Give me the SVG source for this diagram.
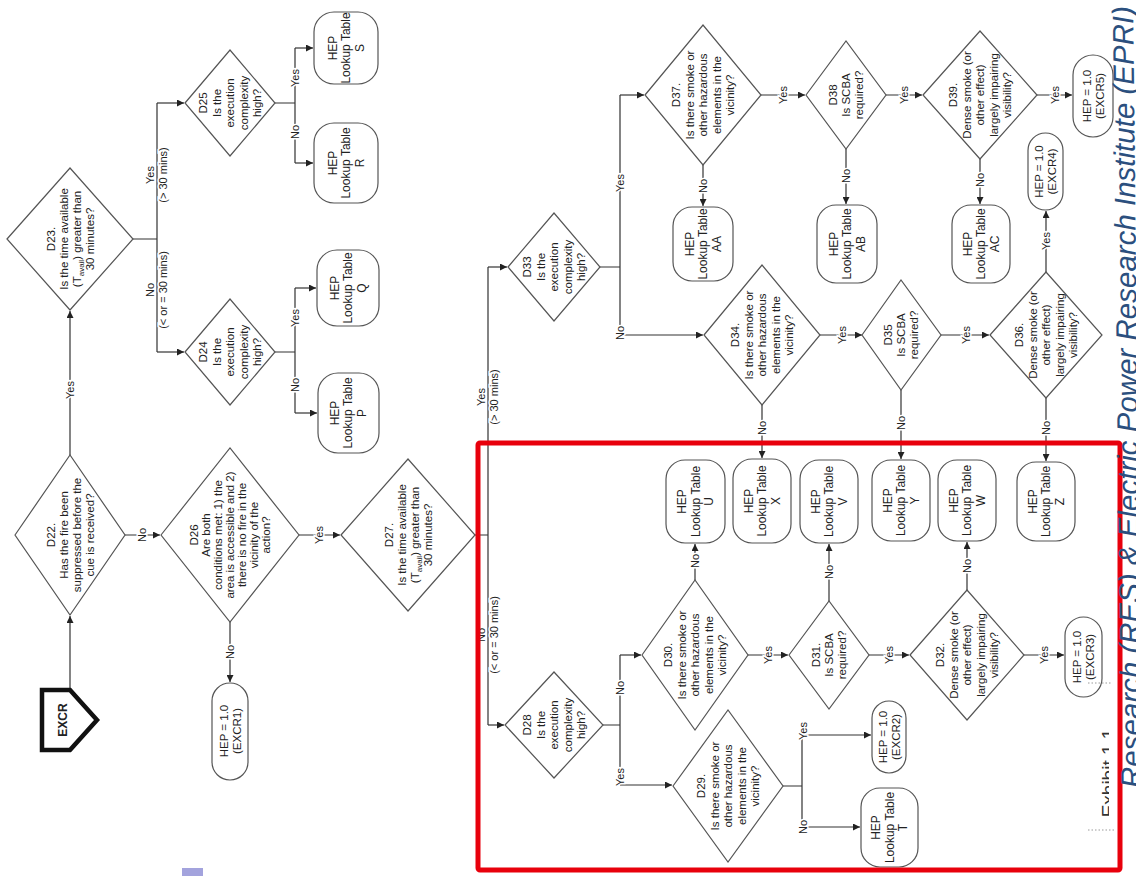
<svg xmlns="http://www.w3.org/2000/svg" width="1136" height="876" viewBox="0 0 1136 876">
<style>
.d{fill:#fff;stroke:#555;stroke-width:1.2}
.n{fill:#fff;stroke:#555;stroke-width:1.2}
.t{font-family:"Liberation Sans",Arial,sans-serif;font-size:11.5px;fill:#222;text-anchor:middle}
.c{fill:none;stroke:#333;stroke-width:1.2}
.a{fill:none;stroke:#333;stroke-width:1.2;marker-end:url(#ar)}
.l{font-family:"Liberation Sans",Arial,sans-serif;font-size:11px;fill:#222;text-anchor:middle;stroke:#fff;stroke-width:3;paint-order:stroke}
</style>
<defs>
<marker id="ar" markerUnits="userSpaceOnUse" markerWidth="7" markerHeight="7" refX="7" refY="3.5" orient="auto"><path d="M0,0 L7,3.5 L0,7 z" fill="#222"/></marker>
<clipPath id="cp"><rect x="1080" y="700" width="29" height="140"/></clipPath>
</defs>
<rect width="1136" height="876" fill="#fff"/>

<g id="connectors">
<path class="a" d="M70,690 V616"/>
<path class="a" d="M70,455 V311"/>
<path class="c" d="M133,239 H157 M157,103 V352"/>
<path class="a" d="M157,103 H184"/>
<path class="a" d="M157,352 H184"/>
<path class="c" d="M275,103 H295 M295,48 V163"/>
<path class="a" d="M295,48 H313"/>
<path class="a" d="M295,163 H313"/>
<path class="c" d="M275,352 H295 M295,288 V413"/>
<path class="a" d="M295,288 H316"/>
<path class="a" d="M295,413 H317"/>
<path class="a" d="M125,535 H160"/>
<path class="a" d="M230,622 V682"/>
<path class="a" d="M299,535 H340"/>
<path class="c" d="M475,535 H488 M488,267 V725"/>
<path class="a" d="M488,267 H507"/>
<path class="a" d="M488,725 H504"/>
<path class="c" d="M600,267 H620 M620,95 V335"/>
<path class="a" d="M620,95 H644"/>
<path class="a" d="M620,335 H703"/>
<path class="a" d="M703,165 V206"/>
<path class="a" d="M761,95 H805"/>
<path class="a" d="M846,149 V204"/>
<path class="a" d="M886,95 H922"/>
<path class="a" d="M980,159 V204"/>
<path class="a" d="M1037,95 H1072"/>
<path class="a" d="M820,335 H862"/>
<path class="a" d="M941,335 H989"/>
<path class="a" d="M1046,272 V211"/>
<path class="a" d="M762,405 V458"/>
<path class="a" d="M901,390 V459"/>
<path class="a" d="M1046,398 V461"/>
<path class="c" d="M603,725 H620 M620,655 V785"/>
<path class="a" d="M620,655 H641"/>
<path class="a" d="M620,785 H672"/>
<path class="a" d="M695,580 V544"/>
<path class="a" d="M748,655 H788"/>
<path class="a" d="M829,601 V544"/>
<path class="a" d="M869,655 H909"/>
<path class="a" d="M967,590 V542"/>
<path class="a" d="M1024,655 H1064"/>
<path class="c" d="M783,786 H802 M802,735 V827"/>
<path class="a" d="M802,735 H871"/>
<path class="a" d="M802,827 H860"/>

<text class="l" transform="translate(70,390) rotate(-90)" dy="4">Yes</text>
<text class="l" transform="translate(157,175) rotate(-90)"><tspan x="0" dy="-3">Yes</tspan><tspan x="0" dy="13">(&gt; 30 mins)</tspan></text>
<text class="l" transform="translate(157,290) rotate(-90)"><tspan x="0" dy="-3">No</tspan><tspan x="0" dy="13">(&lt; or = 30 mins)</tspan></text>
<text class="l" transform="translate(295,78) rotate(-90)" dy="4">Yes</text>
<text class="l" transform="translate(295,132) rotate(-90)" dy="4">No</text>
<text class="l" transform="translate(295,318) rotate(-90)" dy="4">Yes</text>
<text class="l" transform="translate(295,385) rotate(-90)" dy="4">No</text>
<text class="l" transform="translate(142,535) rotate(-90)" dy="4">No</text>
<text class="l" transform="translate(230,652) rotate(-90)" dy="4">No</text>
<text class="l" transform="translate(319,535) rotate(-90)" dy="4">Yes</text>
<text class="l" transform="translate(488,397) rotate(-90)"><tspan x="0" dy="-3">Yes</tspan><tspan x="0" dy="13">(&gt; 30 mins)</tspan></text>
<text class="l" transform="translate(488,635) rotate(-90)"><tspan x="0" dy="-3">No</tspan><tspan x="0" dy="13">(&lt; or = 30 mins)</tspan></text>
<text class="l" transform="translate(620,183) rotate(-90)" dy="4">Yes</text>
<text class="l" transform="translate(620,333) rotate(-90)" dy="4">No</text>
<text class="l" transform="translate(703,186) rotate(-90)" dy="4">No</text>
<text class="l" transform="translate(783,95) rotate(-90)" dy="4">Yes</text>
<text class="l" transform="translate(846,176) rotate(-90)" dy="4">No</text>
<text class="l" transform="translate(904,95) rotate(-90)" dy="4">Yes</text>
<text class="l" transform="translate(980,180) rotate(-90)" dy="4">No</text>
<text class="l" transform="translate(1055,95) rotate(-90)" dy="4">Yes</text>
<text class="l" transform="translate(842,335) rotate(-90)" dy="4">Yes</text>
<text class="l" transform="translate(966,335) rotate(-90)" dy="4">Yes</text>
<text class="l" transform="translate(1046,241) rotate(-90)" dy="4">Yes</text>
<text class="l" transform="translate(762,428) rotate(-90)" dy="4">No</text>
<text class="l" transform="translate(901,423) rotate(-90)" dy="4">No</text>
<text class="l" transform="translate(1046,428) rotate(-90)" dy="4">No</text>
<text class="l" transform="translate(620,688) rotate(-90)" dy="4">No</text>
<text class="l" transform="translate(620,777) rotate(-90)" dy="4">Yes</text>
<text class="l" transform="translate(695,561) rotate(-90)" dy="4">No</text>
<text class="l" transform="translate(768,655) rotate(-90)" dy="4">Yes</text>
<text class="l" transform="translate(829,572) rotate(-90)" dy="4">No</text>
<text class="l" transform="translate(889,655) rotate(-90)" dy="4">Yes</text>
<text class="l" transform="translate(967,566) rotate(-90)" dy="4">No</text>
<text class="l" transform="translate(1044,655) rotate(-90)" dy="4">Yes</text>
<text class="l" transform="translate(803,731) rotate(-90)" dy="4">Yes</text>
<text class="l" transform="translate(803,827) rotate(-90)" dy="4">No</text>
</g>

<g id="EXCR">
<polygon points="42,690 70,690 97,720 70,750 42,750" fill="#fff" stroke="#111" stroke-width="4.5" stroke-linejoin="miter"/>
<text class="t" transform="translate(62,720) rotate(-90)" dy="4.5" style="font-weight:bold;font-size:12px">EXCR</text>
</g>

<g id="D22"><polygon class="d" points="15,535 70,455 125,535 70,615"/>
<text class="t" transform="translate(70,535) rotate(-90)"><tspan x="0" dy="-15.5">D22.</tspan><tspan x="0" dy="13">Has the fire been</tspan><tspan x="0" dy="13">suppressed before the</tspan><tspan x="0" dy="13">cue is received?</tspan></text></g>

<g id="D23"><polygon class="d" points="7,239 70,168 133,239 70,310"/>
<text class="t" transform="translate(70,239) rotate(-90)"><tspan x="0" dy="-15.5">D23.</tspan><tspan x="0" dy="13">Is the time available</tspan><tspan x="0" dy="13">(T<tspan font-size="8" dy="3">avail</tspan><tspan dy="-3">) greater than</tspan></tspan><tspan x="0" dy="13">30 minutes?</tspan></text></g>

<g id="D25"><polygon class="d" points="185,103 230,50 275,103 230,156"/>
<text class="t" transform="translate(230,103) rotate(-90)"><tspan x="0" dy="-23">D25</tspan><tspan x="0" dy="13.5">Is the</tspan><tspan x="0" dy="13.5">execution</tspan><tspan x="0" dy="13.5">complexity</tspan><tspan x="0" dy="13.5">high?</tspan></text></g>

<g id="D24"><polygon class="d" points="185,352 230,299 275,352 230,405"/>
<text class="t" transform="translate(230,352) rotate(-90)"><tspan x="0" dy="-23">D24</tspan><tspan x="0" dy="13.5">Is the</tspan><tspan x="0" dy="13.5">execution</tspan><tspan x="0" dy="13.5">complexity</tspan><tspan x="0" dy="13.5">high?</tspan></text></g>

<g id="S"><rect class="n" x="314" y="12" width="64" height="72" rx="20"/>
<text class="t" transform="translate(346,48) rotate(-90)" style="font-size:12px"><tspan x="0" dy="-9.5">HEP</tspan><tspan x="0" dy="13.5">Lookup Table</tspan><tspan x="0" dy="13.5">S</tspan></text></g>
<g id="R"><rect class="n" x="314" y="123" width="64" height="80" rx="20"/>
<text class="t" transform="translate(346,163) rotate(-90)" style="font-size:12px"><tspan x="0" dy="-9.5">HEP</tspan><tspan x="0" dy="13.5">Lookup Table</tspan><tspan x="0" dy="13.5">R</tspan></text></g>
<g id="Q"><rect class="n" x="317" y="250" width="62" height="76" rx="20"/>
<text class="t" transform="translate(348,288) rotate(-90)" style="font-size:12px"><tspan x="0" dy="-9.5">HEP</tspan><tspan x="0" dy="13.5">Lookup Table</tspan><tspan x="0" dy="13.5">Q</tspan></text></g>
<g id="P"><rect class="n" x="318" y="373" width="61" height="80" rx="20"/>
<text class="t" transform="translate(348,413) rotate(-90)" style="font-size:12px"><tspan x="0" dy="-9.5">HEP</tspan><tspan x="0" dy="13.5">Lookup Table</tspan><tspan x="0" dy="13.5">P</tspan></text></g>

<g id="D26"><polygon class="d" points="161,535 230,448 299,535 230,622"/>
<text class="t" transform="translate(230,535) rotate(-90)"><tspan x="0" dy="-32">D26</tspan><tspan x="0" dy="12">Are both</tspan><tspan x="0" dy="12">conditions met: 1) the</tspan><tspan x="0" dy="12">area is accessible and 2)</tspan><tspan x="0" dy="12">there is no fire in the</tspan><tspan x="0" dy="12">vicinity of the</tspan><tspan x="0" dy="12">action?</tspan></text></g>

<g id="EXCR1"><rect class="n" x="212" y="683" width="36" height="97" rx="18"/>
<text class="t" transform="translate(230,731) rotate(-90)"><tspan x="0" dy="-2.5">HEP = 1.0</tspan><tspan x="0" dy="13">(EXCR1)</tspan></text></g>

<g id="D27"><polygon class="d" points="341,535 408,459 475,535 408,611"/>
<text class="t" transform="translate(408,535) rotate(-90)"><tspan x="0" dy="-15.5">D27.</tspan><tspan x="0" dy="13">Is the time available</tspan><tspan x="0" dy="13">(T<tspan font-size="8" dy="3">avail</tspan><tspan dy="-3">) greater than</tspan></tspan><tspan x="0" dy="13">30 minutes?</tspan></text></g>

<g id="D33"><polygon class="d" points="508,267 554,213 600,267 554,321"/>
<text class="t" transform="translate(554,267) rotate(-90)"><tspan x="0" dy="-23">D33</tspan><tspan x="0" dy="13.5">Is the</tspan><tspan x="0" dy="13.5">execution</tspan><tspan x="0" dy="13.5">complexity</tspan><tspan x="0" dy="13.5">high?</tspan></text></g>

<g id="D37"><polygon class="d" points="645,95 703,25 761,95 703,165"/>
<text class="t" transform="translate(703,95) rotate(-90)"><tspan x="0" dy="-23">D37.</tspan><tspan x="0" dy="13.5">Is there smoke or</tspan><tspan x="0" dy="13.5">other hazardous</tspan><tspan x="0" dy="13.5">elements in the</tspan><tspan x="0" dy="13.5">vicinity?</tspan></text></g>

<g id="AA"><rect class="n" x="673" y="207" width="60" height="74" rx="19"/>
<text class="t" transform="translate(703,244) rotate(-90)" style="font-size:12px"><tspan x="0" dy="-9.5">HEP</tspan><tspan x="0" dy="13.5">Lookup Table</tspan><tspan x="0" dy="13.5">AA</tspan></text></g>

<g id="D38"><polygon class="d" points="806,95 846,41 886,95 846,149"/>
<text class="t" transform="translate(846,95) rotate(-90)"><tspan x="0" dy="-9.5">D38</tspan><tspan x="0" dy="13">Is SCBA</tspan><tspan x="0" dy="13">required?</tspan></text></g>

<g id="AB"><rect class="n" x="817" y="205" width="60" height="78" rx="19"/>
<text class="t" transform="translate(847,244) rotate(-90)" style="font-size:12px"><tspan x="0" dy="-9.5">HEP</tspan><tspan x="0" dy="13.5">Lookup Table</tspan><tspan x="0" dy="13.5">AB</tspan></text></g>

<g id="D39"><polygon class="d" points="923,95 980,31 1037,95 980,159"/>
<text class="t" transform="translate(980,95) rotate(-90)"><tspan x="0" dy="-23">D39.</tspan><tspan x="0" dy="13.5">Dense smoke (or</tspan><tspan x="0" dy="13.5">other effect)</tspan><tspan x="0" dy="13.5">largely impairing</tspan><tspan x="0" dy="13.5">visibility?</tspan></text></g>

<g id="AC"><rect class="n" x="952" y="205" width="58" height="78" rx="19"/>
<text class="t" transform="translate(981,244) rotate(-90)" style="font-size:12px"><tspan x="0" dy="-9.5">HEP</tspan><tspan x="0" dy="13.5">Lookup Table</tspan><tspan x="0" dy="13.5">AC</tspan></text></g>

<g id="EXCR5"><rect class="n" x="1073" y="55" width="40" height="82" rx="20"/>
<text class="t" transform="translate(1093,96) rotate(-90)"><tspan x="0" dy="-2.5">HEP = 1.0</tspan><tspan x="0" dy="13">(EXCR5)</tspan></text></g>

<g id="EXCR4"><rect class="n" x="1028" y="133" width="35" height="77" rx="17.5"/>
<text class="t" transform="translate(1045.5,171.5) rotate(-90)"><tspan x="0" dy="-2.5">HEP = 1.0</tspan><tspan x="0" dy="13">(EXCR4)</tspan></text></g>

<g id="D34"><polygon class="d" points="704,335 762,265 820,335 762,405"/>
<text class="t" transform="translate(762,335) rotate(-90)"><tspan x="0" dy="-23">D34.</tspan><tspan x="0" dy="13.5">Is there smoke or</tspan><tspan x="0" dy="13.5">other hazardous</tspan><tspan x="0" dy="13.5">elements in the</tspan><tspan x="0" dy="13.5">vicinity?</tspan></text></g>

<g id="D35"><polygon class="d" points="862,335 901,280 941,335 901,390"/>
<text class="t" transform="translate(901,335) rotate(-90)"><tspan x="0" dy="-9.5">D35</tspan><tspan x="0" dy="13">Is SCBA</tspan><tspan x="0" dy="13">required?</tspan></text></g>

<g id="D36"><polygon class="d" points="990,335 1046,272 1102,335 1046,398"/>
<text class="t" transform="translate(1046,335) rotate(-90)"><tspan x="0" dy="-23">D36.</tspan><tspan x="0" dy="13.5">Dense smoke (or</tspan><tspan x="0" dy="13.5">other effect)</tspan><tspan x="0" dy="13.5">largely impairing</tspan><tspan x="0" dy="13.5">visibility?</tspan></text></g>

<g id="U"><rect class="n" x="666" y="460" width="59" height="83" rx="19"/>
<text class="t" transform="translate(695.5,501.5) rotate(-90)" style="font-size:12px"><tspan x="0" dy="-9.5">HEP</tspan><tspan x="0" dy="13.5">Lookup Table</tspan><tspan x="0" dy="13.5">U</tspan></text></g>
<g id="X"><rect class="n" x="733" y="459" width="58" height="84" rx="19"/>
<text class="t" transform="translate(762,501) rotate(-90)" style="font-size:12px"><tspan x="0" dy="-9.5">HEP</tspan><tspan x="0" dy="13.5">Lookup Table</tspan><tspan x="0" dy="13.5">X</tspan></text></g>
<g id="V"><rect class="n" x="800" y="460" width="58" height="83" rx="19"/>
<text class="t" transform="translate(829,501.5) rotate(-90)" style="font-size:12px"><tspan x="0" dy="-9.5">HEP</tspan><tspan x="0" dy="13.5">Lookup Table</tspan><tspan x="0" dy="13.5">V</tspan></text></g>
<g id="Y"><rect class="n" x="872" y="460" width="58" height="81" rx="19"/>
<text class="t" transform="translate(901,500.5) rotate(-90)" style="font-size:12px"><tspan x="0" dy="-9.5">HEP</tspan><tspan x="0" dy="13.5">Lookup Table</tspan><tspan x="0" dy="13.5">Y</tspan></text></g>
<g id="W"><rect class="n" x="938" y="460" width="58" height="81" rx="19"/>
<text class="t" transform="translate(967,500.5) rotate(-90)" style="font-size:12px"><tspan x="0" dy="-9.5">HEP</tspan><tspan x="0" dy="13.5">Lookup Table</tspan><tspan x="0" dy="13.5">W</tspan></text></g>
<g id="Z"><rect class="n" x="1017" y="462" width="58" height="79" rx="19"/>
<text class="t" transform="translate(1046,501.5) rotate(-90)" style="font-size:12px"><tspan x="0" dy="-9.5">HEP</tspan><tspan x="0" dy="13.5">Lookup Table</tspan><tspan x="0" dy="13.5">Z</tspan></text></g>

<g id="D28"><polygon class="d" points="505,725 554,672 603,725 554,778"/>
<text class="t" transform="translate(554,725) rotate(-90)"><tspan x="0" dy="-23">D28</tspan><tspan x="0" dy="13.5">Is the</tspan><tspan x="0" dy="13.5">execution</tspan><tspan x="0" dy="13.5">complexity</tspan><tspan x="0" dy="13.5">high?</tspan></text></g>

<g id="D30"><polygon class="d" points="642,655 695,580 748,655 695,730"/>
<text class="t" transform="translate(695,655) rotate(-90)"><tspan x="0" dy="-23">D30.</tspan><tspan x="0" dy="13.5">Is there smoke or</tspan><tspan x="0" dy="13.5">other hazardous</tspan><tspan x="0" dy="13.5">elements in the</tspan><tspan x="0" dy="13.5">vicinity?</tspan></text></g>

<g id="D31"><polygon class="d" points="789,655 829,601 869,655 829,709"/>
<text class="t" transform="translate(829,655) rotate(-90)"><tspan x="0" dy="-9.5">D31.</tspan><tspan x="0" dy="13">Is SCBA</tspan><tspan x="0" dy="13">required?</tspan></text></g>

<g id="D32"><polygon class="d" points="910,655 967,590 1024,655 967,720"/>
<text class="t" transform="translate(967,655) rotate(-90)"><tspan x="0" dy="-23">D32.</tspan><tspan x="0" dy="13.5">Dense smoke (or</tspan><tspan x="0" dy="13.5">other effect)</tspan><tspan x="0" dy="13.5">largely impairing</tspan><tspan x="0" dy="13.5">visibility?</tspan></text></g>

<g id="EXCR3"><rect class="n" x="1065" y="617" width="37" height="80" rx="18.5"/>
<text class="t" transform="translate(1083.5,657) rotate(-90)"><tspan x="0" dy="-2.5">HEP = 1.0</tspan><tspan x="0" dy="13">(EXCR3)</tspan></text></g>

<g id="D29"><polygon class="d" points="673,786 728,710 783,786 728,862"/>
<text class="t" transform="translate(728,786) rotate(-90)"><tspan x="0" dy="-23">D29.</tspan><tspan x="0" dy="13.5">Is there smoke or</tspan><tspan x="0" dy="13.5">other hazardous</tspan><tspan x="0" dy="13.5">elements in the</tspan><tspan x="0" dy="13.5">vicinity?</tspan></text></g>

<g id="EXCR2"><rect class="n" x="872" y="701" width="34" height="72" rx="17"/>
<text class="t" transform="translate(889,737) rotate(-90)"><tspan x="0" dy="-2.5">HEP = 1.0</tspan><tspan x="0" dy="13">(EXCR2)</tspan></text></g>

<g id="T"><rect class="n" x="861" y="788" width="57" height="79" rx="19"/>
<text class="t" transform="translate(889.5,827.5) rotate(-90)" style="font-size:12px"><tspan x="0" dy="-9.5">HEP</tspan><tspan x="0" dy="13.5">Lookup Table</tspan><tspan x="0" dy="13.5">T</tspan></text></g>

<g id="decor">
<rect x="478" y="443" width="642" height="427" rx="2" fill="none" stroke="#e8000c" stroke-width="5"/>
<rect x="182" y="868" width="21" height="8" fill="#a3a3dd"/>
<path d="M1088,683 H1112 M1088,830 H1116" stroke="#9a9a9a" stroke-width="1" stroke-dasharray="1.5,2" fill="none"/>
<g clip-path="url(#cp)"><text transform="translate(1115,773) rotate(-90)" style="font-family:'Liberation Sans',Arial,sans-serif;font-size:19px;fill:#333;text-anchor:middle">Exhibit 1.1</text></g>
<text transform="translate(1133,6) rotate(-90.65)" style="font-family:'Liberation Sans',Arial,sans-serif;font-size:29.5px;font-style:italic;fill:#2b4f7e;text-anchor:end">Research (RES) &amp; Electric Power Research Institute (EPRI)</text>
</g>
</svg>
